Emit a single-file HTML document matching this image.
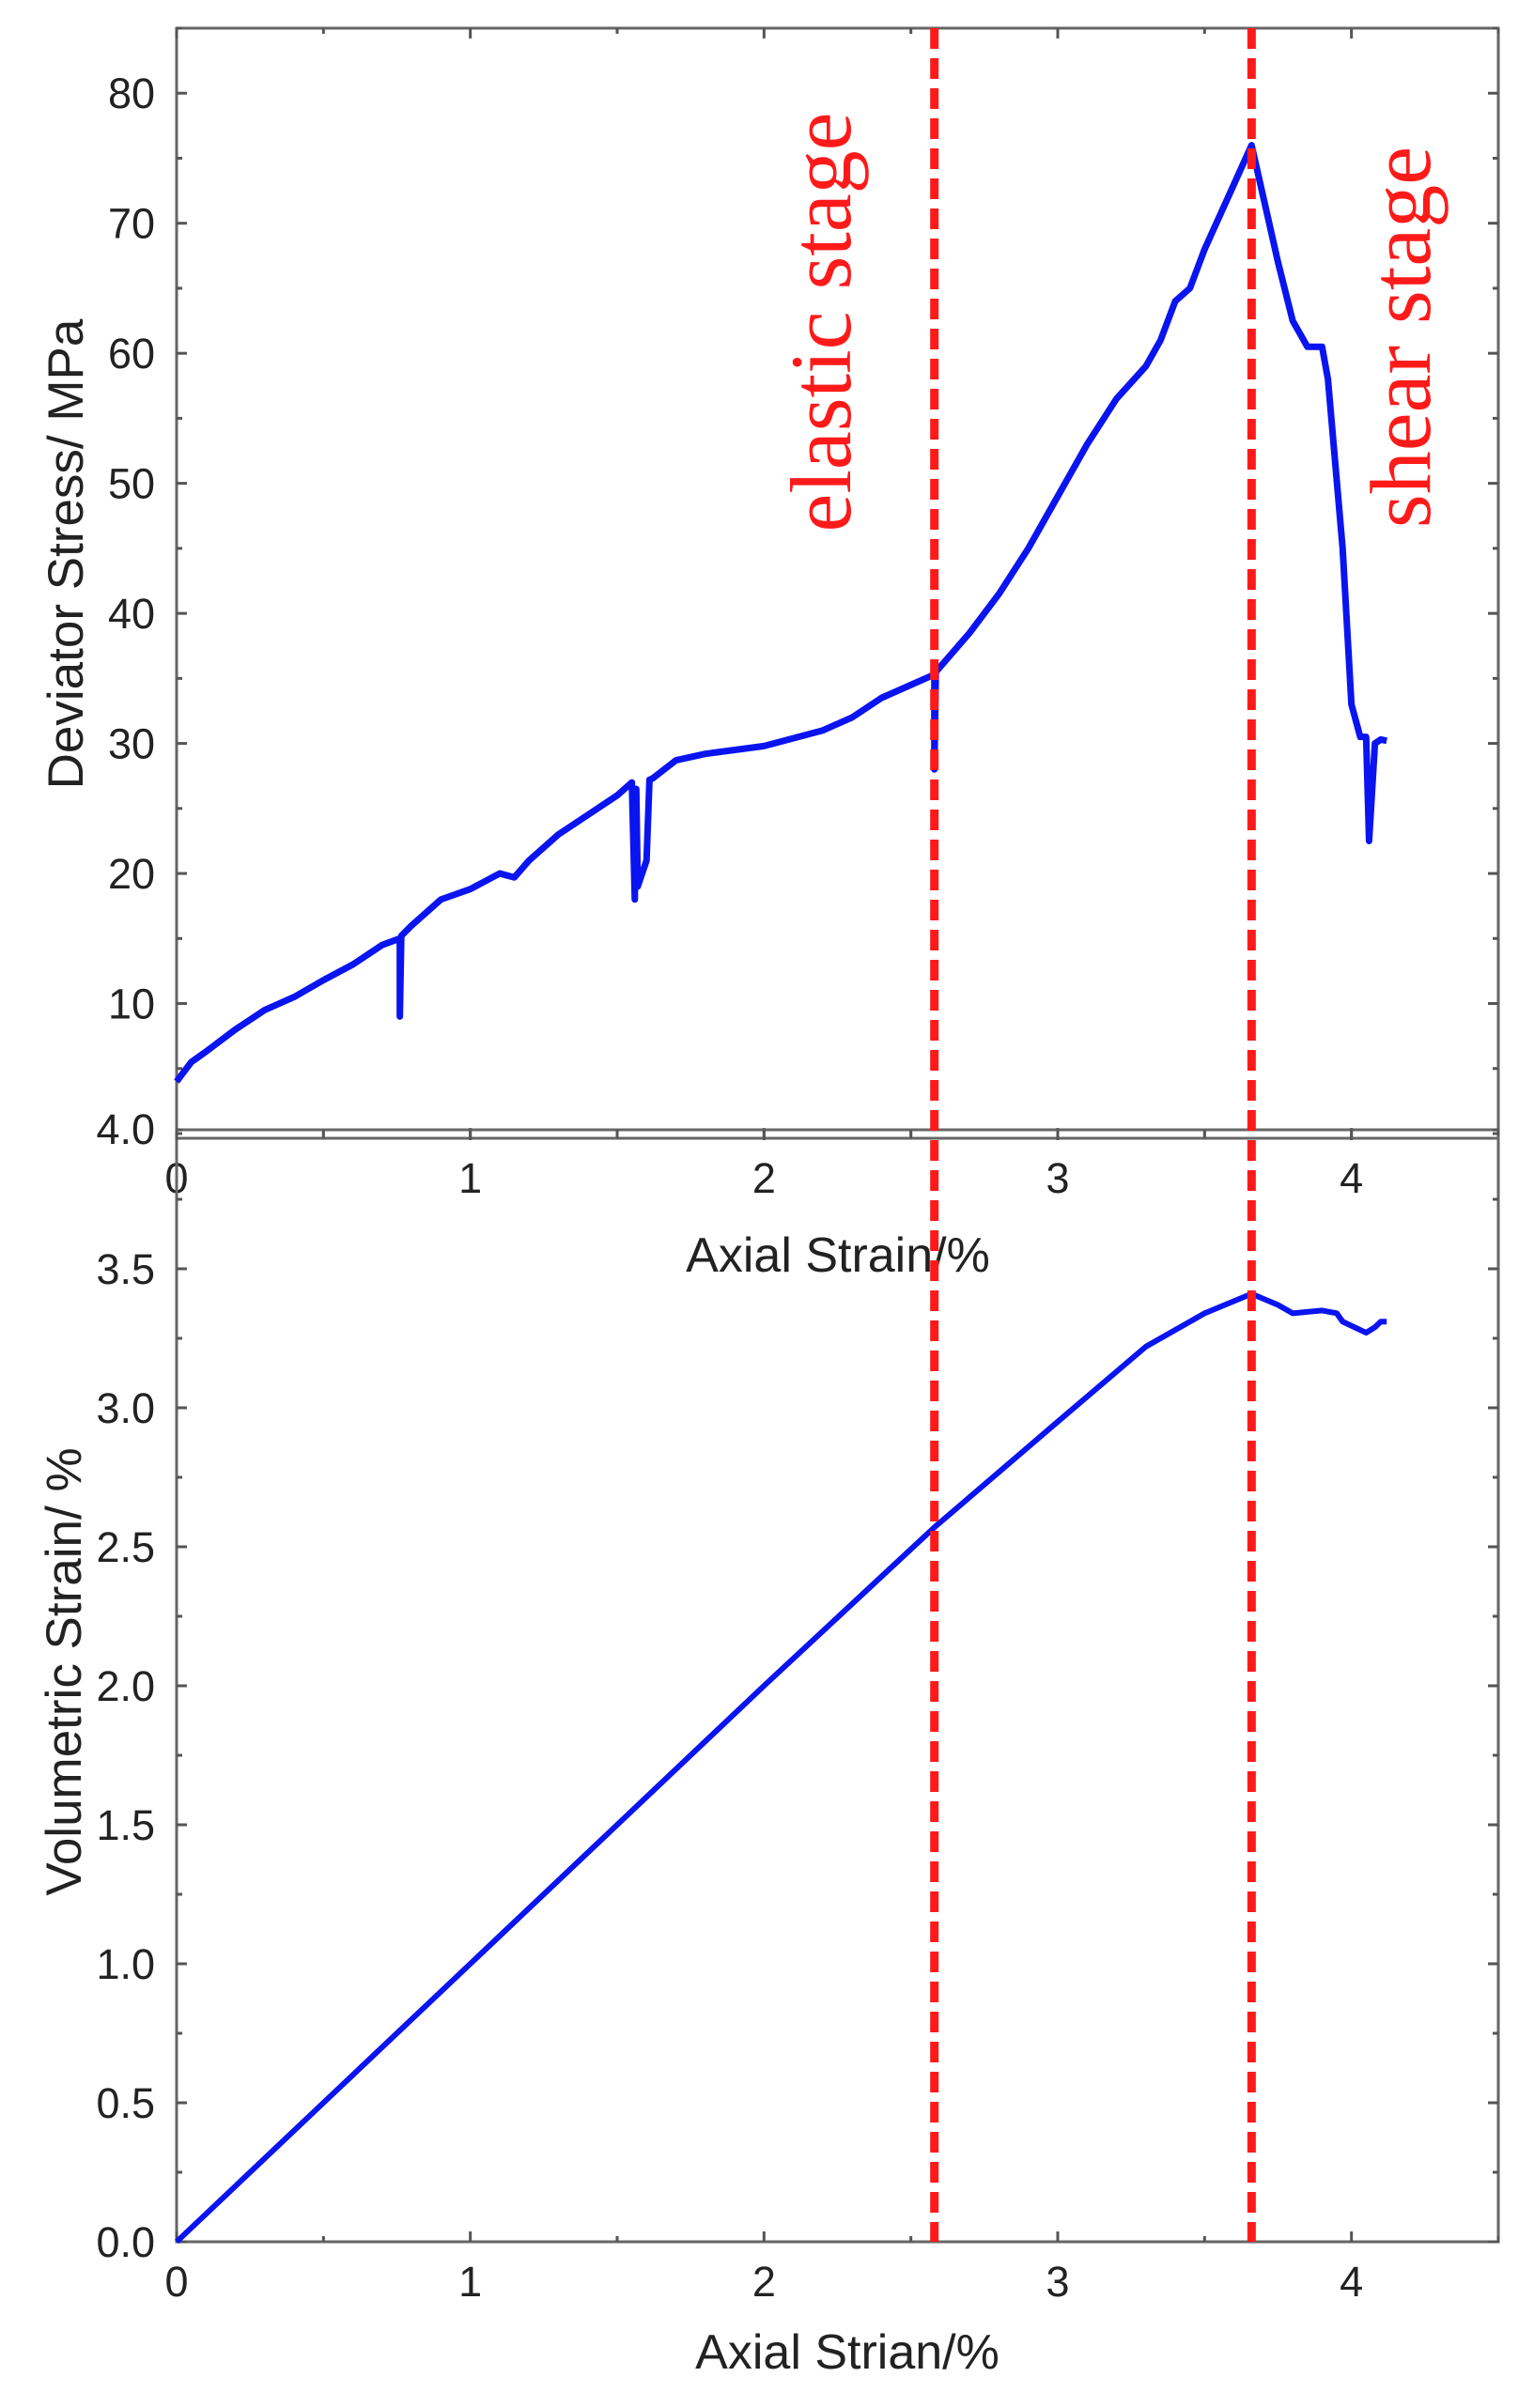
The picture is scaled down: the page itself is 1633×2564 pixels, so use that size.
<!DOCTYPE html>
<html><head><meta charset="utf-8"><style>
html,body{margin:0;padding:0;background:#fff;}
svg{display:block;}
text{font-family:"Liberation Sans",sans-serif;}
</style></head><body>
<svg id="chart" width="1633" height="2564" viewBox="0 0 1633 2564" xmlns="http://www.w3.org/2000/svg">
<g id="top"></g>
<g id="bot"></g>
<g id="marks"></g>
</svg>
<script>
const xTicks = [0,1,2,3,4];
const topYTicks = [10,20,30,40,50,60,70,80];
const botYTicks = [0.0,0.5,1.0,1.5,2.0,2.5,3.0,3.5];
const botYTickLabels = ["0.0","0.5","1.0","1.5","2.0","2.5","3.0","3.5"];
const stressX = [0,0.05,0.1,0.2,0.3,0.4,0.5,0.6,0.7,0.76,0.76,0.765,0.8,0.9,1.0,1.1,1.15,1.2,1.3,1.4,1.5,1.55,1.56,1.565,1.57,1.6,1.61,1.62,1.7,1.8,2.0,2.2,2.3,2.4,2.58,2.58,2.585,2.7,2.8,2.9,3.0,3.1,3.2,3.3,3.35,3.4,3.45,3.5,3.6,3.66,3.7,3.75,3.8,3.85,3.9,3.92,3.97,4.0,4.03,4.05,4.06,4.08,4.1,4.12];
const stressY = [4,5.5,6.3,8,9.5,10.5,11.8,13,14.5,15,9,15.2,16,18,18.8,20,19.7,21,23,24.5,26,27,18,26.5,19,21,27.2,27.3,28.7,29.2,29.8,31,32,33.5,35.3,28,35.5,38.5,41.5,45,49,53,56.5,59,61,64,65,68,73,76,72,67,62.5,60.5,60.5,58,45,33,30.5,30.5,22.5,30,30.3,30.2];
const volX = [0,0.5,1.0,1.5,2.0,2.58,3.0,3.3,3.5,3.66,3.75,3.8,3.9,3.95,3.97,4.05,4.08,4.1,4.12];
const volY = [0,0.5,1.0,1.5,2.0,2.57,2.95,3.22,3.34,3.41,3.37,3.34,3.35,3.34,3.31,3.27,3.29,3.31,3.31];
const stageX = [2.58,3.66];
const stageLabels = ["elastic stage","shear stage"];

const NS="http://www.w3.org/2000/svg";
const L=188,R=1595;
const sx=v=>L+(R-L)*v/4.5;
const tyT=v=>1207-(1207-30)*v/85;
const tyB=v=>2387-(2387-1203)*v/4;
function mk(p,tag,a){const e=document.createElementNS(NS,tag);for(const k in a)e.setAttribute(k,a[k]);p.appendChild(e);return e;}

function panel(g,top,bot,ticks,labels,ty,minorStep,yMax,title,titleY,xLabY,xTitle,xTitleY,name){
  const box=mk(g,'rect',{x:L,y:top,width:R-L,height:bot-top,fill:'none',stroke:'#666','stroke-width':3});
  
  
  for(let v=0;v<=yMax+1e-9;v+=minorStep){const y=ty(v);const major=ticks.some(t=>Math.abs(t-v)<1e-6);const len=major?11:6;
    mk(g,'line',{x1:L,x2:L+len,y1:y,y2:y,stroke:'#555','stroke-width':3});
    mk(g,'line',{x1:R,x2:R-len,y1:y,y2:y,stroke:'#555','stroke-width':3});}
  for(let v=0;v<=4.5+1e-9;v+=0.5){const x=sx(v);const major=Math.abs(v-Math.round(v))<1e-6;const len=major?11:6;
    mk(g,'line',{x1:x,x2:x,y1:bot,y2:bot-len,stroke:'#555','stroke-width':3});
    mk(g,'line',{x1:x,x2:x,y1:top,y2:top+len,stroke:'#555','stroke-width':3});}
  ticks.forEach((t,i)=>{const e=mk(g,'text',{x:165,y:ty(t)+16,'text-anchor':'end','font-size':45,fill:'#222'});e.textContent=labels[i];
    
    });
  xTicks.forEach(t=>{const e=mk(g,'text',{x:sx(t),y:xLabY,'text-anchor':'middle','font-size':45,fill:'#222'});e.textContent=t;
    
    });
  const yt=mk(g,'text',{x:0,y:0,'text-anchor':'middle','font-size':53,fill:'#222',transform:`translate(${titleY[0]},${titleY[1]}) rotate(-90)`});yt.textContent=title;
  
  
  const xt=mk(g,'text',{x:xTitleY[0],y:xTitleY[1],'text-anchor':'middle','font-size':52,fill:'#222'});xt.textContent=xTitle;
  
  
}
const gT=document.getElementById('top'),gB=document.getElementById('bot');
panel(gT,30,1212,topYTicks,topYTicks.map(String),tyT,5,85,'Deviator Stress/ MPa',[88,590],1270,'Axial Strain/%',[892,1354],'stress');
panel(gB,1203,2387,botYTicks,botYTickLabels,tyB,0.25,4,'Volumetric Strain/ %',[86,1780],2445,'Axial Strian/%',[902,2522],'volumetric');
const l4=mk(gB,'text',{x:165,y:1218,'text-anchor':'end','font-size':45,fill:'#222'});l4.textContent='4.0';



const p1=mk(gT,'polyline',{points:stressX.map((x,i)=>sx(x)+','+tyT(stressY[i])).join(' '),fill:'none',stroke:'#0a14f0','stroke-width':7,'stroke-linejoin':'round'});


const p2=mk(gB,'polyline',{points:volX.map((x,i)=>sx(x)+','+tyB(volY[i])).join(' '),fill:'none',stroke:'#0a14f0','stroke-width':6,'stroke-linejoin':'round'});



const gM=document.getElementById('marks');
const labPos=[[905,343],[1522,359]];
stageX.forEach((v,i)=>{
  const ln=mk(gM,'line',{x1:sx(v),x2:sx(v),y1:30,y2:2387,stroke:'#ff1a1a','stroke-width':9,'stroke-dasharray':'22 10'});
  
  
  const t=mk(gM,'text',{x:0,y:0,'text-anchor':'middle','font-size':92,fill:'#ff1a1a',transform:`translate(${labPos[i][0]},${labPos[i][1]}) rotate(-90)`});
  t.setAttribute('style','font-family:"Liberation Serif",serif');
  t.textContent=stageLabels[i];
  
  
});
</script>
</body></html>
